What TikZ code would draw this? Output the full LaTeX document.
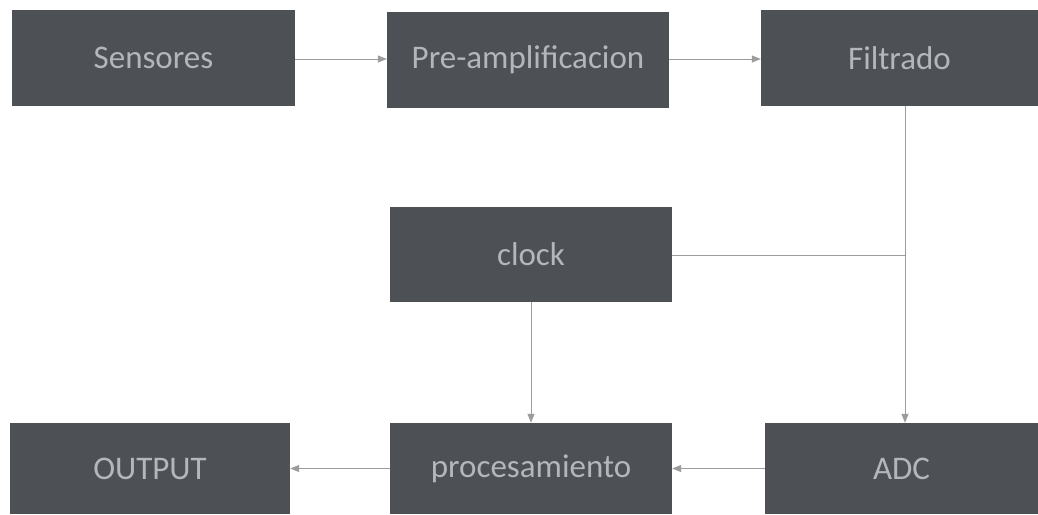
\documentclass[tikz,border=0pt]{standalone}
\usepackage{fontspec}
\setmainfont{Carlito}
\usetikzlibrary{arrows.meta}
\definecolor{boxfill}{HTML}{4D5055}
\definecolor{boxtext}{HTML}{B4B7B9}
\definecolor{linecol}{HTML}{9C9C9C}
\begin{document}
\begin{tikzpicture}[x=1pt,y=-1pt,
  blk/.style={fill=boxfill,draw=none,text=boxtext,font=\fontsize{33}{38}\selectfont,inner sep=0pt},
  conn/.style={draw=linecol,line width=1pt,-{Triangle[length=9pt,width=7pt]}}]
\useasboundingbox (0,0) rectangle (1038,514);
\fill[white] (0,0) rectangle (1038,514);
\node[blk,minimum width=283pt,minimum height=96pt] (sens) at (153.5,58) {Sensores};
\node[blk,minimum width=282pt,minimum height=96pt] (pre) at (528,60) {Pre-amplificacion};
\node[blk,minimum width=277pt,minimum height=96pt] (fil) at (899.5,58) {Filtrado};
\node[blk,minimum width=282pt,minimum height=95pt] (clk) at (531,254.5) {clock};
\node[blk,minimum width=280pt,minimum height=91pt] (out) at (150,468.5) {OUTPUT};
\node[blk,minimum width=282pt,minimum height=91pt] (proc) at (531,468.5) {procesamiento};
\node[blk,minimum width=273pt,minimum height=91pt] (adc) at (901.5,468.5) {ADC};
\coordinate (j) at (905,255);
\draw[conn] (sens.east |- 0,59) -- (pre.west |- 0,59);
\draw[conn] (pre.east |- 0,59) -- (fil.west |- 0,59);
\draw[conn] (j |- fil.south) -- (j |- adc.north);
\draw[draw=linecol,line width=1pt] (clk.east |- j) -- (j);
\draw[conn] (clk.south) -- (proc.north);
\draw[conn] (adc.west) -- (proc.east);
\draw[conn] (proc.west) -- (out.east);
\end{tikzpicture}
\end{document}
